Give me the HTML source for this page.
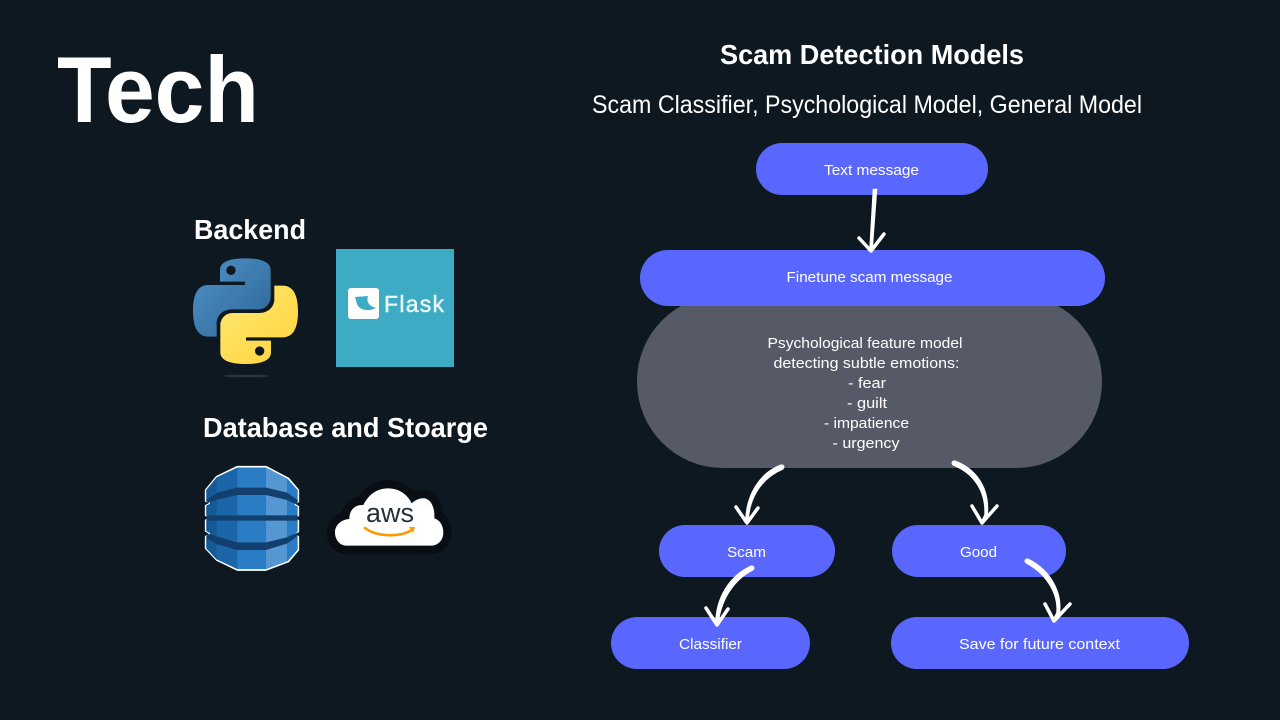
<!DOCTYPE html>
<html><head><meta charset="utf-8"><style>
html,body{margin:0;padding:0;background:#0e1820;width:1280px;height:720px;overflow:hidden}
svg{display:block}
text{font-family:"Liberation Sans",sans-serif;fill:#fff}
.n{font-size:15px;text-anchor:middle}
.a{fill:none;stroke:#fff;stroke-width:3.500;stroke-linecap:round;stroke-linejoin:round}
.f{fill:#fff;stroke:#fff;stroke-width:.6;stroke-linejoin:round}
</style></head><body>
<svg width="1280" height="720" viewBox="0 0 1280 720" xmlns="http://www.w3.org/2000/svg">
<defs>
<linearGradient id="b" x1="0" y1="0" x2="1" y2="1"><stop offset="0" stop-color="#4f93c8"/><stop offset="1" stop-color="#2d6496"/></linearGradient>
<linearGradient id="y" x1="0" y1="0" x2="1" y2="1"><stop offset="0" stop-color="#ffd43b"/><stop offset="1" stop-color="#ffe873"/></linearGradient>
<filter id="s"><feGaussianBlur stdDeviation="1.2"/></filter>
</defs>
<rect width="1280" height="720" fill="#0e1820"/>
<text x="57" y="122" font-size="94" font-weight="700" textLength="202" lengthAdjust="spacingAndGlyphs">Tech</text>
<text x="720" y="64" font-size="28" font-weight="700" textLength="304" lengthAdjust="spacingAndGlyphs">Scam Detection Models</text>
<text x="592" y="113" font-size="25" textLength="550" lengthAdjust="spacingAndGlyphs">Scam Classifier, Psychological Model, General Model</text>
<text x="194" y="239" font-size="28" font-weight="700" textLength="112" lengthAdjust="spacingAndGlyphs">Backend</text>
<text x="203" y="437" font-size="28" font-weight="700" textLength="285" lengthAdjust="spacingAndGlyphs">Database and Stoarge</text>

<!-- python -->
<g transform="translate(180 240) scale(.3333)">
<ellipse cx="198" cy="408" rx="70" ry="3" fill="#3a4248" filter="url(#s)"/>
<path fill="url(#b)" d="M196 55C150 55 120 65 120 90V125H195V135H85C55 135 39 160 39 212C39 265 55 290 85 290H110V250C110 225 130 208 155 208H235C258 208 272 190 272 170V90C272 65 240 55 196 55Z"/>
<path fill="url(#y)" transform="rotate(180 196.5 213.5)" d="M196 55C150 55 120 65 120 90V125H195V135H85C55 135 39 160 39 212C39 265 55 290 85 290H110V250C110 225 130 208 155 208H235C258 208 272 190 272 170V90C272 65 240 55 196 55Z"/>
<circle cx="153" cy="91" r="14" fill="#0e1820"/><circle cx="239" cy="333" r="14" fill="#0e1820"/>
</g>

<!-- flask -->
<rect x="336" y="249" width="118" height="118" fill="#3dabc3"/>
<rect x="348" y="288" width="31" height="31" rx="3" fill="#fff"/>
<path d="M355 297L368 296C366 302 369 306 376 308C368 312 359 310 357 304Z" fill="#3dabc3"/>
<text x="384" y="312" font-size="23" textLength="60" lengthAdjust="spacing" stroke="#e8f6f9" stroke-width=".5" style="fill:#e8f6f9">Flask</text>

<!-- dynamodb -->
<g transform="translate(190 455) scale(.3333)">
<path d="M142 35H228L295 70L325 105V140L316 146V150L325 155V182L316 186V193L325 197V230L316 236V240L325 245V285L295 320L228 345H142L80 315L47 280V245L58 238V234L47 228V196L58 192V185L47 181V152L58 147V143L47 138V105L80 65Z" fill="#2a7cc4" stroke="#fff" stroke-width="5" stroke-linejoin="round"/>
<path d="M49 105L80 67L142 38V342L80 313L49 280V245L60 238V234L49 228V196L60 192V185L49 181V152L60 147V143L49 138Z" fill="#1a66a8"/>
<path d="M49 105L80 67V313L49 280V245L60 238V234L49 228V196L60 192V185L49 181V152L60 147V143L49 138Z" fill="#155a96"/>
<path d="M228 38L291 70V317L228 342Z" fill="#5497d3"/>
<path d="M291 72L323 105V140L314 146V150L323 155V182L314 186V193L323 197V230L314 236V240L323 245V283L291 317Z" fill="#2a7cc4"/>
<path d="M50 135L82 113L142 98H228L291 113L323 135V150L291 135L228 120H142L82 134L50 145ZM50 181H323V197H50ZM50 235L82 245L142 262H228L291 247L323 232V243L291 266L228 285H142L82 268L50 250Z" fill="#123f6d"/>
</g>

<!-- aws -->
<g transform="translate(190 455) scale(.3333)">
<path fill="#080e14" stroke="#080e14" stroke-width="50" stroke-linejoin="round" d="M470 272C448 272 435 252 435 232C435 210 455 193 478 192C478 165 495 148 520 150C535 120 560 100 595 100C630 100 655 122 665 145C675 135 690 128 705 130C725 135 735 160 733 190C750 195 760 212 760 232C760 255 745 272 722 272Z"/>
<path fill="#fff" d="M470 272C448 272 435 252 435 232C435 210 455 193 478 192C478 165 495 148 520 150C535 120 560 100 595 100C630 100 655 122 665 145C675 135 690 128 705 130C725 135 735 160 733 190C750 195 760 212 760 232C760 255 745 272 722 272Z"/>
</g>
<text x="390" y="522" font-size="27" text-anchor="middle" textLength="48" lengthAdjust="spacingAndGlyphs" style="fill:#252f3e">aws</text>
<path d="M365 528C376 537 402 538 413 529" fill="none" stroke="#f90" stroke-width="2.600" stroke-linecap="round"/>
<path d="M409 527L415 527L413 533Z" fill="#f90"/>

<!-- nodes -->
<rect x="637" y="295" width="465" height="173" rx="86" fill="#555a66"/>
<rect x="756" y="143" width="232" height="52" rx="26" fill="#5a67ff"/>
<rect x="640" y="250" width="465" height="56" rx="28" fill="#5a67ff"/>
<rect x="659" y="525" width="176" height="52" rx="26" fill="#5a67ff"/>
<rect x="892" y="525" width="174" height="52" rx="26" fill="#5a67ff"/>
<rect x="611" y="617" width="199" height="52" rx="26" fill="#5a67ff"/>
<rect x="891" y="617" width="298" height="52" rx="26" fill="#5a67ff"/>

<text class="n" x="871.500" y="175" textLength="95" lengthAdjust="spacingAndGlyphs">Text message</text>
<text class="n" x="869.500" y="282" textLength="166" lengthAdjust="spacingAndGlyphs">Finetune scam message</text>
<text class="n" x="865" y="348" textLength="195" lengthAdjust="spacingAndGlyphs">Psychological feature model</text>
<text class="n" x="866.500" y="368" textLength="186" lengthAdjust="spacingAndGlyphs">detecting subtle emotions:</text>
<text class="n" x="867" y="388" textLength="38" lengthAdjust="spacingAndGlyphs">- fear</text>
<text class="n" x="867" y="408" textLength="40" lengthAdjust="spacingAndGlyphs">- guilt</text>
<text class="n" x="866.500" y="428" textLength="85" lengthAdjust="spacingAndGlyphs">- impatience</text>
<text class="n" x="866" y="448" textLength="67" lengthAdjust="spacingAndGlyphs">- urgency</text>
<text class="n" x="746.500" y="557" textLength="39" lengthAdjust="spacingAndGlyphs">Scam</text>
<text class="n" x="978.500" y="557" textLength="37" lengthAdjust="spacingAndGlyphs">Good</text>
<text class="n" x="710.500" y="649" textLength="63" lengthAdjust="spacingAndGlyphs">Classifier</text>
<text class="n" x="1039.500" y="649" textLength="161" lengthAdjust="spacingAndGlyphs">Save for future context</text>

<!-- arrows -->
<path class="f" d="M873 189L877 189L872.500 250L869.500 250Z"/>
<path class="a" d="M859 238L871 251L884 234"/>

<path class="f" d="M781 464.700C759.500 472.700 745.500 495 745.500 522L748.500 522C749 497 763 477.500 783 469.300Z"/>
<circle cx="782" cy="467" r="2.500" fill="#fff"/>
<path class="a" d="M736 507L747 523L758 508"/>

<path class="f" d="M955 460.700C977 469 990.500 489 987.500 516L984 523L981 522L984.500 515C986 491 973 473 953 465.300Z"/>
<circle cx="954" cy="463" r="2.500" fill="#fff"/>
<path class="a" d="M972 506L982 523L997 506"/>

<path class="f" d="M751 565.800C729 576 715.500 598 715.500 624L718.500 624C720.500 602 733 580 753 570.200Z"/>
<circle cx="752" cy="568" r="2.500" fill="#fff"/>
<path class="a" d="M706 608L717 625L728 609"/>

<path class="f" d="M1028 558.800C1049 569 1063.500 591 1059.500 615L1055 622L1052.500 620L1056.500 613C1058.500 593 1045 573 1026 563.200Z"/>
<circle cx="1027" cy="561" r="2.500" fill="#fff"/>
<path class="a" d="M1045 604L1054 621L1070 604"/>
</svg>
</body></html>
